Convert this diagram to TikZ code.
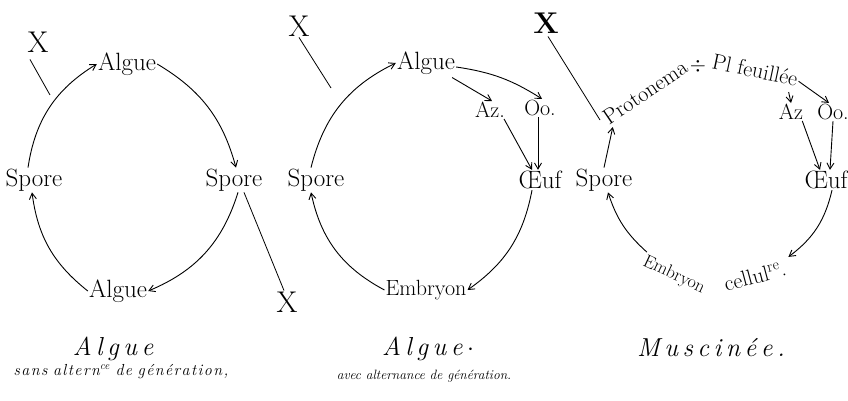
\documentclass[tikz,border=0pt]{standalone}
\usepackage{fontspec}
\usetikzlibrary{arrows.meta}
\newcommand\ls{\kern4.5pt}
\newcommand\lss{\kern1.4pt}
\begin{document}
\begin{tikzpicture}[x=1pt,y=1pt,
  lbl/.style={inner sep=1pt, font=\fontsize{25}{27}\selectfont},
  mlbl/.style={inner sep=1pt, font=\fontsize{22}{24}\selectfont},
  slbl/.style={inner sep=1pt, font=\fontsize{18}{20}\selectfont},
  xl/.style={inner sep=1pt, font=\fontsize{30}{32}\selectfont},
  captitle/.style={inner sep=1pt, font=\fontsize{26}{28}\selectfont\itshape},
  capsub/.style={inner sep=1pt, font=\fontsize{16}{18}\selectfont\itshape},
  capsubb/.style={inner sep=1pt, font=\fontsize{13.5}{15}\selectfont\itshape},
  arr/.style={line width=0.9pt, -{Straight Barb[length=6pt,width=7pt]}},
  ln/.style={line width=0.8pt}]
\useasboundingbox (0,0) rectangle (848,-401);

% ---------- Diagram 1 ----------
\node[xl] (x1) at (38,-42) {X};
\node[lbl] (a1) at (127,-64) {Algue};
\node[lbl] (s1) at (34,-180) {Spore};
\node[lbl] (s2) at (234,-180) {Spore};
\node[lbl] (a2) at (118,-291) {Algue};
\node[xl] (x2) at (287,-302) {X};
\coordinate (c1) at (50,-95);
\draw[ln] ([shift={(-8,-6)}]x1.south) -- (c1);
\draw[arr] ([xshift=-6pt]s1.north) to[bend left=25] (a1.west);
\draw[arr] (a1.east) to[bend left=22] ([xshift=2pt]s2.north);
\draw[arr] ([xshift=4pt]s2.south) to[bend left=25] (a2.east);
\draw[arr] (a2.west) to[bend left=22] ([xshift=-2pt]s1.south);
\draw[ln] ([xshift=10pt]s2.south) -- ([xshift=-3pt]x2.north);

% ---------- Diagram 2 ----------
\node[xl] (x3) at (299,-26) {X};
\node[lbl] (a3) at (426,-63) {Algue};
\node[mlbl] (az) at (490,-110) {Az.};
\node[mlbl] (oo) at (540,-108) {Oo.};
\node[lbl] (oe) at (540,-180) {Œuf};
\node[lbl] (sp3) at (316,-180) {Spore};
\node[mlbl] (em) at (426,-290) {Embryon};
\coordinate (c3) at (331,-88);
\draw[ln] (x3.south) -- (c3);
\draw[arr] ([xshift=-5pt]sp3.north) to[bend left=25] (a3.west);
\draw[arr] ([shift={(-4,-2)}]a3.south east) -- ([xshift=2pt]az.north);
\draw[arr] ([yshift=-4pt]a3.east) to[bend left=12] ([xshift=2pt]oo.north);
\draw[arr] ([xshift=-2pt]az.south east) -- ([xshift=-8pt]oe.north);
\draw[arr] ([xshift=-2pt]oo.south) -- ([xshift=-2pt]oe.north);
\draw[arr] ([xshift=-8pt]oe.south) to[bend left=22] (em.east);
\draw[arr] (em.west) to[bend left=25] ([xshift=-5pt]sp3.south);

% ---------- Diagram 3 ----------
\node[xl, font=\fontsize{30}{32}\selectfont\bfseries] (x4) at (546,-23) {X};
\node[mlbl, rotate=34] (prot) at (645,-92) {Protonema};
\node[mlbl] (dv) at (698,-66) {$\div$};
\node[mlbl, rotate=-12] (pl) at (755,-70) {Pl feuillée};
\node[mlbl] (az2) at (791,-112) {Az};
\node[mlbl] (oo2) at (833,-112) {Oo.};
\node[lbl] (oe2) at (826,-180) {Œuf};
\node[lbl] (sp4) at (604,-180) {Spore};
\node[slbl, rotate=-25] (emb) at (674,-275) {Embryon};
\node[mlbl, rotate=15] (cel) at (755,-276) {cellul\textsuperscript{re}.};
\coordinate (c4) at (600,-120);
\draw[ln] ([shift={(2,-2)}]x4.south) -- (c4);
\draw[arr] (sp4.north) -- ([shift={(4,0)}]prot.south west);
\draw[arr] ([shift={(-8,-4)}]pl.south east) -- (az2.north);
\draw[arr] ([shift={(0,-2)}]pl.east) -- ([xshift=-4pt]oo2.north);
\draw[arr] ([xshift=-2pt]az2.south east) -- ([xshift=-6pt]oe2.north);
\draw[arr] (oo2.south) -- ([xshift=4pt]oe2.north);
\draw[arr] ([xshift=6pt]oe2.south) to[bend left=20] ([shift={(4,2)}]cel.north east);
\draw[arr] (emb.north west) to[bend left=15] ([xshift=4pt]sp4.south);

% ---------- Captions ----------
\node[captitle] (t1) at (113,-349) {A\ls l\ls g\ls u\ls e};
\node[capsub] (u1) at (121,-372) {s\lss a\lss n\lss s a\lss l\lss t\lss e\lss r\lss n\textsuperscript{ce} d\lss e g\lss é\lss n\lss é\lss r\lss a\lss t\lss i\lss o\lss n\lss ,};
\node[captitle] (t2) at (428,-349) {A\ls l\ls g\ls u\ls e\ls $\cdot$};
\node[capsubb] (u2) at (424,-376) {avec alternance de génération.};
\node[captitle] (t3) at (711,-348) {M\ls u\ls s\ls c\ls i\ls n\ls é\ls e\ls .};
\end{tikzpicture}
\end{document}
